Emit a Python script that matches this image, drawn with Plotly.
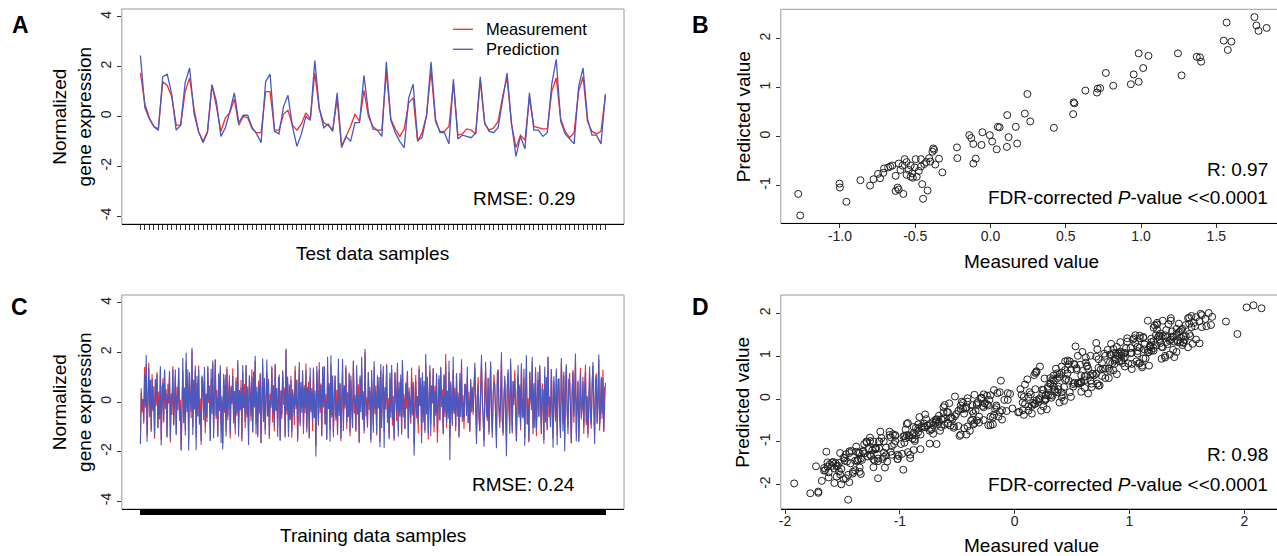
import plotly.graph_objects as go

# === Data ===
# Panel A: test data samples (1..105)
test_measurement = [
    1.75, 0.5, -0.05, -0.4, -0.5, 1.4, 1.25, 0.8, -0.35, -0.35,
    1.0, 1.55, 0.3, -0.6, -1.0, -0.6, 1.25, 0.4, -0.6, -0.05,
    0.15, 0.7, -0.35, 0.0, -0.05, -0.5, -0.65, -0.65, 1.0, 1.0,
    -0.55, -0.55, 0.1, 0.25, -0.35, -0.55, -0.3, 0.15, -0.1, 1.75,
    0.3, -0.25, -0.35, -0.55, 0.7, -1.25, -0.8, -0.4, 0.1, -0.2,
    1.05, 0.0, -0.4, -0.55, -0.55, 1.8, -0.1, -0.5, -0.8, -0.5,
    0.55, 0.75, -1.0, -0.65, 0.05, 1.85, -0.2, -0.6, -0.6, -0.4,
    1.35, -0.75, -0.7, -0.5, -0.55, -0.7, 1.45, -0.3, -0.55, -0.45,
    -0.2, 0.8, 1.55, -0.3, -1.25, -0.75, -0.95, 0.75, -0.4, -0.45,
    -0.5, -0.5, 1.0, 1.55, -0.1, -0.6, -0.85, -0.65, 1.0, 1.6,
    -0.2, -0.6, -0.7, -0.6, 0.85,
]
test_prediction = [
    2.45, 0.35, -0.1, -0.4, -0.55, 1.6, 1.7, 0.9, -0.55, -0.35,
    1.35, 1.95, 0.1, -0.6, -1.05, -0.65, 1.28, 0.6, -0.8, -0.45,
    0.2, 0.95, -0.25, 0.05, 0.05, -0.45, -0.7, -1.05, 1.4, 1.7,
    -0.6, -0.7, 0.4, 0.85, -0.4, -1.2, -0.7, 0.0, -0.15, 2.25,
    0.35, -0.45, -0.3, -0.6, 0.95, -1.2, -0.8, -1.0, -0.25, -0.25,
    1.65, 0.15, -0.5, -0.55, -0.8, 2.2, -0.15, -0.65, -1.0, -1.25,
    0.75, 1.3, -0.95, -0.85, 0.05, 2.2, -0.1, -0.65, -0.65, -1.1,
    1.5, -0.9, -0.75, -0.8, -0.85, -0.65, 1.6, -0.25, -0.6, -0.65,
    -0.45, 0.65, 1.75, -0.3, -1.6, -0.8, -1.3, 0.95, -0.55, -0.55,
    -0.8, -0.65, 1.3, 2.3, -0.2, -0.7, -0.9, -1.1, 1.2, 1.95,
    -0.1, -0.75, -0.75, -1.1, 0.9,
]

# Panel B: test scatter (measured, predicted)
test_scatter_measured = [
    -1.277, -1.264, -1.003, -1.0, -0.957, -0.864, -0.80, -0.777, -0.747, -0.734,
    -0.712, -0.707, -0.68, -0.666, -0.652, -0.63, -0.63, -0.617, -0.61, -0.61,
    -0.598, -0.584, -0.579, -0.57, -0.557, -0.557, -0.543, -0.53, -0.53, -0.52,
    -0.516, -0.503, -0.497, -0.49, -0.476, -0.462, -0.462, -0.454, -0.448, -0.44,
    -0.427, -0.418, -0.408, -0.40, -0.386, -0.38, -0.375, -0.367, -0.342, -0.32,
    -0.223, -0.22, -0.141, -0.128, -0.114, -0.114, -0.098, -0.06, -0.054, -0.005,
    0.011, 0.041, 0.049, 0.06, 0.109, 0.111, 0.12, 0.168, 0.177, 0.228,
    0.245, 0.264, 0.421, 0.549, 0.552, 0.557, 0.63, 0.707, 0.712, 0.728,
    0.766, 0.815, 0.932, 0.951, 0.984, 0.984, 1.014, 1.049, 1.245, 1.269,
    1.37, 1.391, 1.399, 1.549, 1.568, 1.576, 1.60, 1.753, 1.766, 1.78,
    1.834,
]
test_scatter_predicted = [
    -1.17, -1.61, -0.96, -1.04, -1.33, -0.89, -1.0, -0.87, -0.76, -0.85,
    -0.74, -0.65, -0.63, -0.61, -0.59, -0.80, -1.11, -1.04, -1.08, -0.55,
    -0.68, -0.59, -1.17, -0.46, -0.52, -0.78, -0.68, -0.59, -0.82, -0.75,
    -0.84, -0.63, -0.46, -0.82, -0.70, -0.46, -0.61, -0.97, -1.27, -0.56,
    -0.52, -1.10, -0.44, -0.51, -0.31, -0.24, -0.27, -0.57, -0.45, -0.73,
    -0.22, -0.44, 0.03, -0.03, -0.15, -0.55, -0.45, -0.17, 0.09, 0.03,
    -0.10, -0.26, 0.20, 0.19, -0.21, 0.44, -0.01, 0.20, -0.14, 0.47,
    0.87, 0.31, 0.18, 0.46, 0.70, 0.68, 0.94, 0.90, 0.98, 0.99,
    1.30, 1.04, 1.07, 1.27, 1.12, 1.70, 1.40, 1.65, 1.70, 1.25,
    1.63, 1.62, 1.53, 1.96, 2.33, 1.77, 1.94, 2.44, 2.27, 2.16,
    2.22,
]

# Panels C and D: training data samples (estimated, too dense to read one by one)
train_measurement = [
    -1.62, 0.55, -0.41, 0.12, -0.88, 1.41, -0.23, 1.52, -1.35, 0.31, 1.58, -0.62, 0.87, -1.21, 1.12, -0.37, 0.64, -1.48, 0.93, -0.15,
    1.21, -1.05, 0.42, -0.71, 1.33, -1.52, 0.18, 0.96, -0.84, 1.27, -0.29, 0.51, -1.39, 0.74, -0.06, 1.18, -1.63, 0.35, -0.52, 1.44,
    -0.95, 0.27, 1.05, -1.28, 0.61, -0.33, 1.36, -0.77, 0.09, -1.92, 0.83, 1.24, -0.48, 0.39, -1.14, 1.62, -0.21, 0.71, -1.57, 1.09,
    0.24, -0.66, 2.08, -1.01, 0.46, -0.13, 1.29, -1.44, 0.78, -0.58, 1.47, -0.92, 0.15, -1.73, 1.01, 0.57, -0.39, 1.19, -1.26, 0.34,
    -0.81, 1.38, -0.04, 0.67, -1.55, 0.92, -0.27, 1.54, -1.11, 0.22, 1.71, -0.69, 0.48, -1.36, 0.81, -0.18, 1.26, -0.97, 0.05, -1.68,
    1.14, -0.44, 0.59, -1.19, 1.42, -0.74, 0.31, 1.08, -1.47, 0.66, -0.09, 1.35, -0.86, 0.44, -1.31, 0.99, -0.55, 1.57, -1.02, 0.26,
    -0.34, 0.89, -1.59, 1.23, -0.17, 0.73, -1.06, 1.49, -0.63, 0.19, -1.41, 0.96, 0.38, -0.79, 1.31, -1.24, 0.53, -0.02, 1.66, -0.91,
    0.41, -1.33, 0.86, -0.47, 1.17, -1.65, 0.28, 1.43, -0.71, 0.62, -1.12, 0.07, 1.22, -0.58, 0.94, -1.49, 0.33, -0.24, 1.37, -0.83,
    0.69, -1.18, 1.52, -0.36, 0.17, -1.02, 0.79, 1.11, -1.54, 0.45, -0.68, 1.28, -0.12, 0.58, -1.37, 2.15, -0.51, 0.84, -1.23, 0.36,
    -0.73, 1.06, -1.44, 0.52, 0.13, -0.94, 1.46, -0.28, 0.91, -1.61, 0.23, 1.32, -0.87, 0.47, -0.19, 1.13, -1.29, 0.68, -0.45, 1.55,
    -1.08, 0.37, 0.82, -1.46, 1.03, -0.31, 0.56, -1.17, 1.39, -0.64, 0.11, -1.78, 1.25, 0.29, -0.96, 1.61, -0.43, 0.75, -1.34, 0.98,
    -0.22, 1.45, -0.89, 0.32, -1.53, 1.16, -0.07, 0.63, -1.13, 1.51, -0.53, 0.86, -1.42, 0.21, 1.07, -0.76, 0.49, -1.25, 1.34, -0.35,
    0.77, -1.58, 0.14, 1.24, -0.82, 0.54, -0.26, 1.48, -1.09, 0.39, -0.61, 1.19, -1.38, 0.88, 0.03, -0.99, 1.63, -0.46, 0.27, -1.21,
    1.09, -0.38, 0.72, -1.66, 0.95, -0.14, 1.36, -0.72, 0.43, -1.27, 2.02, -0.57, 0.18, -1.04, 1.21, -0.32, 0.61, -1.51, 0.84, 0.08,
    -0.93, 1.41, -0.49, 0.67, -1.35, 1.02, -0.11, 0.55, -1.62, 1.27, -0.68, 0.34, 1.12, -1.19, 0.46, -0.29, 1.53, -0.84, 0.16, -1.43,
    0.97, -0.41, 1.31, -0.95, 0.25, -1.56, 1.18, 0.41, -0.78, 1.44, -1.15, 0.52, -0.19, 0.92, -1.32, 1.67, -0.62, 0.31, -1.07, 0.79,
    -0.27, 1.23, -1.48, 0.58, 0.06, -0.88, 1.39, -0.54, 0.82, -1.71, 0.37, 1.09, -0.66, 0.24, -1.26, 1.47, -0.16, 0.71, -1.39, 1.01,
    -0.47, 0.62, -1.14, 1.54, -0.33, 0.89, -1.52, 0.19, 1.26, -0.91, 0.44, -0.06, 1.35, -1.23, 0.66, -0.56, 1.13, -1.64, 0.29, 0.93,
    -0.74, 1.42, -0.21, 0.51, -1.31, 1.07, -0.62, 1.94, -1.04, 0.33, -0.44, 1.21, -1.45, 0.76, 0.12, -0.97, 1.29, -0.37, 0.57, -1.18,
    1.16, -0.59, 0.38, -1.37, 0.86, -0.23, 1.49, -0.81, 0.27, -1.09, 0.73, 0.49, -0.31, 1.04, -0.86, 0.41, -1.21, 0.88, -0.42, 0.61,
    -0.52, 0.83, 1.37, -0.24, -1.41, 0.18, 1.02, -0.69, -1.18, 0.47, 1.58, 0.21, -0.93, -1.55, 0.64, 1.24, -0.11, -0.78, 0.96, -1.32,
    0.35, 1.46, -0.58, -1.22, 0.09, 1.11, 0.54, -0.87, -1.49, 0.72, 1.33, -0.27, -1.04, 0.43, 1.69, -0.65, -1.36, 0.26, 0.91, -0.45,
    -1.71, 0.62, 1.19, -0.35, -0.98, 1.52, 0.04, -1.27, 0.85, -0.13, 1.28, -0.82, -1.59, 0.37, 1.05, -0.49, 0.71, -1.14, 1.43, -0.21,
    -0.67, 0.98, -1.45, 0.29, 1.36, -0.92, 0.15, -1.63, 1.18, 0.58, -0.33, 1.61, -1.07, 0.41, -0.74, 1.26, -1.38, 0.07, 0.89, -0.56,
    1.47, -0.18, -1.26, 0.76, 0.31, -1.53, 1.09, -0.42, 0.66, -1.12, 1.84, -0.61, 0.22, -0.96, 1.32, -0.29, -1.47, 0.83, 0.12, -0.79,
    1.21, -1.34, 0.48, 0.95, -0.64, -1.19, 1.56, 0.19, -0.88, 1.07, -1.51, 0.34, 1.41, -0.47, -1.02, 0.73, 1.17, -0.37, -1.66, 0.55,
    1.29, -0.84, 0.08, 1.63, -1.23, -0.41, 0.87, -1.57, 0.52, 1.38, -0.71, -0.16, 1.02, -1.29, 0.39, 1.51, -0.94, 0.25, -1.44, 0.68,
    1.12, -0.53, -1.08, 0.79, 1.45, -0.26, -1.35, 0.44, 1.16, -0.89, 0.17, 1.72, -1.16, -0.36, 0.93, -0.68, 1.31, -1.21, 0.58, 0.63,
]
train_prediction = [
    -1.71, 0.37, -0.06, 0.05, -0.79, 1.10, -0.15, 1.90, -1.60, 0.35, 1.39, -0.19, 0.90, -1.13, 0.95, -0.28, 0.13, -1.38, 0.90, 0.14,
    1.13, -1.05, 0.09, -0.53, 1.44, -1.76, 0.61, 0.76, -0.77, 1.31, 0.03, 0.35, -1.44, 0.32, 0.14, 1.25, -1.48, 0.22, 0.06, 1.32,
    -0.91, -0.01, 1.31, -1.34, 0.26, -0.10, 1.39, -0.47, -0.12, -1.97, 0.86, 1.78, -0.86, 0.58, -1.35, 1.99, -0.41, 1.31, -1.96, 1.20,
    0.12, -0.39, 2.19, -1.33, 0.90, -0.30, 1.47, -1.94, 1.06, -0.57, 1.31, -0.85, -0.34, -1.57, 1.07, 0.80, -0.74, 1.41, -0.98, 0.29,
    -0.63, 1.45, 0.12, 0.28, -1.57, 1.33, -0.49, 1.68, -1.46, 0.76, 1.73, -0.55, 0.16, -1.41, 1.15, -0.37, 1.48, -1.65, 0.23, -1.91,
    0.95, -0.34, 1.10, -1.39, 1.33, -0.58, 0.37, 0.83, -1.29, 0.55, -0.02, 1.04, -0.67, 0.44, -1.05, 0.83, -0.43, 1.70, -1.40, 0.48,
    -0.27, 0.58, -1.48, 1.49, -0.24, 0.31, -0.82, 1.47, -0.48, 0.63, -1.74, 1.08, 0.29, -0.57, 1.01, -1.20, 1.23, -0.22, 1.87, -1.30,
    0.62, -1.42, 0.67, -0.15, 1.10, -1.66, -0.24, 1.76, -0.81, 0.97, -1.31, -0.26, 1.72, -0.57, 0.84, -1.37, 0.08, -0.12, 1.46, -0.42,
    0.55, -0.99, 1.52, -0.33, 0.56, -1.40, 1.01, 0.74, -1.56, 0.47, -0.49, 1.22, 0.43, 0.39, -1.44, 2.12, -0.35, 1.03, -1.41, 0.71,
    -0.71, 0.88, -1.22, 0.38, 0.16, -0.58, 1.26, -0.16, 0.88, -1.52, -0.27, 1.61, -0.98, 0.81, -0.43, 1.28, -0.99, 0.59, -0.23, 1.29,
    -1.23, 0.60, 0.49, -1.46, 1.39, -0.41, 0.36, -0.76, 1.34, -0.65, 0.46, -2.20, 1.45, 0.29, -0.86, 1.30, -0.22, 0.69, -1.39, 1.42,
    -0.02, 1.43, -0.92, 0.03, -1.49, 1.83, -0.28, 0.76, -1.60, 1.89, -0.63, 1.07, -1.21, -0.01, 1.06, -0.62, 0.05, -1.33, 1.75, -0.56,
    0.71, -1.47, 0.11, 1.74, -1.17, 0.68, -0.10, 1.38, -0.84, -0.08, -0.60, 1.13, -1.23, 1.07, -0.31, -1.05, 1.68, -0.06, 0.09, -1.15,
    1.48, -0.51, 0.36, -1.61, 1.07, -0.41, 1.83, -0.70, 0.28, -1.15, 2.14, -0.10, -0.11, -0.98, 1.19, -0.07, 0.44, -1.63, 1.29, -0.37,
    -1.24, 1.64, -0.27, 0.36, -1.26, 1.08, -0.26, 1.01, -1.83, 1.53, -1.05, 0.43, 1.45, -1.85, 0.60, 0.01, 1.47, -0.69, -0.09, -1.50,
    1.19, -0.64, 1.49, -0.71, -0.17, -1.50, 1.21, 0.16, -0.36, 1.58, -1.40, 0.82, -0.59, 1.11, -1.23, 1.70, -0.31, 0.09, -1.10, 0.71,
    0.11, 1.25, -1.44, 0.41, 0.10, -0.65, 0.98, -0.46, 0.71, -2.16, 0.48, 0.84, -0.53, 0.22, -0.90, 1.33, -0.15, 0.99, -1.66, 1.19,
    -0.83, 0.85, -1.25, 1.94, -0.50, 1.02, -1.26, -0.03, 1.48, -1.38, 0.68, -0.02, 1.36, -0.99, 0.43, -0.44, 1.16, -1.23, 0.09, 1.08,
    -0.74, 1.37, 0.09, 0.29, -1.27, 1.12, -0.45, 1.52, -0.86, 0.46, -0.68, 1.67, -2.35, 0.84, -0.17, -0.87, 1.83, -0.48, 0.38, -0.99,
    1.15, -0.30, 0.23, -1.44, 1.17, -0.61, 1.73, -0.67, 0.01, -0.76, 0.73, 0.69, -0.55, 1.42, -0.85, 0.04, -1.17, 0.93, -0.19, 0.54,
    -0.40, 0.66, 1.58, 0.08, -1.70, 0.23, 0.70, -0.49, -1.15, 0.43, 1.91, -0.07, -0.56, -1.81, 0.71, 1.62, -0.48, -0.66, 0.98, -1.21,
    0.18, 1.64, -0.31, -1.44, 0.34, 0.78, 0.72, -0.94, -1.87, 1.16, 1.28, -0.19, -0.84, -0.04, 2.01, -0.74, -1.25, -0.04, 1.06, -0.09,
    -2.19, 0.53, 1.33, 0.10, -1.28, 1.76, -0.30, -1.17, 0.84, 0.16, 0.94, -0.83, -1.56, 0.16, 1.49, -0.63, 0.59, -0.99, 1.56, -0.61,
    -0.58, 1.34, -1.77, 0.25, 1.89, -0.89, -0.16, -1.58, 1.23, 0.17, -0.14, 1.82, -1.30, 0.76, -1.04, 1.40, -1.11, -0.08, 1.22, -0.62,
    1.47, 0.21, -1.30, 0.54, 0.49, -1.69, 1.42, -0.83, 1.01, -1.13, 1.81, -0.14, 0.02, -1.02, 1.33, 0.03, -1.85, 1.04, -0.27, -0.65,
    1.35, -1.75, 0.88, 0.95, -0.47, -1.45, 1.78, 0.65, -1.19, 1.22, -1.99, 0.55, 1.52, -0.23, -1.30, 0.93, 0.78, -0.14, -1.67, 0.37,
    1.21, -0.59, 0.05, 1.96, -1.59, 0.02, 0.82, -1.62, 0.80, 1.15, -0.61, -0.19, 0.82, -1.01, 0.52, 1.21, -0.84, 0.21, -1.26, 0.59,
    1.43, -0.67, -0.89, 0.49, 1.61, -0.10, -1.70, 0.88, 1.09, -0.84, -0.12, 1.92, -0.91, -0.59, 1.02, -0.47, 0.97, -1.17, 0.55, 0.78,
]

# Tick labels
expr_ticks = [-4, -2, 0, 2, 4]
b_x_ticks = [-1.0, -0.5, 0.0, 0.5, 1.0, 1.5]
b_y_ticks = [-1, 0, 1, 2]
d_ticks = [-2, -1, 0, 1, 2]

# Annotation texts
rmse_test = "RMSE: 0.29"
rmse_train = "RMSE: 0.24"
r_test = "R: 0.97"
r_train = "R: 0.98"
fdr_text = "FDR-corrected <i>P</i>-value &lt;&lt;0.0001"

# === Layout helpers (pixel positions in the 1277x556 page) ===
W, H = 1277, 556
FONT = "Liberation Sans, Arial, sans-serif"
RED = "#ff2a2a"
BLUE = "#4a58c0"


def fx(p):
    return p / W


def fy(p):
    return 1 - p / H


def r_range(lo, hi):
    # R style 4% padding
    d = hi - lo
    return [lo - 0.04 * d, hi + 0.04 * d]


def base_axis(x0, x1, rng, **kw):
    ax = dict(domain=[x0, x1], range=rng, showgrid=False, zeroline=False,
              ticks="outside", ticklen=5, tickwidth=1, tickcolor="#333",
              tickfont=dict(family=FONT, size=14, color="#222"))
    ax.update(kw)
    return ax


test_idx = list(range(1, len(test_measurement) + 1))
train_idx = list(range(1, len(train_measurement) + 1))

traces = [
    go.Scatter(x=test_idx, y=test_measurement, mode="lines", line=dict(color=RED, width=1.3),
               xaxis="x", yaxis="y", name="Measurement"),
    go.Scatter(x=test_idx, y=test_prediction, mode="lines", line=dict(color=BLUE, width=1.3),
               xaxis="x", yaxis="y", name="Prediction"),
    go.Scatter(x=test_scatter_measured, y=test_scatter_predicted, mode="markers",
               marker=dict(symbol="circle-open", size=7, color="#222", line=dict(width=1)),
               xaxis="x2", yaxis="y2"),
    go.Scatter(x=train_idx, y=train_measurement, mode="lines", line=dict(color=RED, width=1.1),
               xaxis="x3", yaxis="y3"),
    go.Scatter(x=train_idx, y=train_prediction, mode="lines", line=dict(color=BLUE, width=1.1),
               xaxis="x3", yaxis="y3"),
    go.Scatter(x=train_measurement, y=train_prediction, mode="markers",
               marker=dict(symbol="circle-open", size=7, color="#222", line=dict(width=1)),
               xaxis="x4", yaxis="y4"),
]
fig = go.Figure(data=traces)

n_test, n_train = len(test_idx), len(train_idx)
b_left, b_scale = -1.393, 150.8   # value at box left, px per unit
d_left, d_scale = -2.037, 115.0

layout_axes = dict(
    # A
    xaxis=base_axis(fx(120), fx(623), r_range(1, n_test), anchor="y", tickmode="array",
                    tickvals=test_idx, showticklabels=False, showline=True, linecolor="black", linewidth=1),
    yaxis=base_axis(fy(224), fy(9), [-4.32, 4.32], anchor="x", tickmode="array",
                    tickvals=expr_ticks, ticktext=[str(t) for t in expr_ticks], tickangle=-90, ticklen=4),
    # B
    xaxis2=base_axis(fx(780), 1.0, [b_left, b_left + (W - 780) / b_scale], anchor="y2", tickmode="array",
                     tickvals=b_x_ticks, ticktext=["%.1f" % t for t in b_x_ticks],
                     showline=True, linecolor="black", linewidth=1, ticklen=4, ticklabelstandoff=-4),
    yaxis2=base_axis(fy(223.3), fy(9.3), [-1.77, 2.60], anchor="x2", tickmode="array",
                     tickvals=b_y_ticks, ticktext=[str(t) for t in b_y_ticks], tickangle=-90, ticklen=4),
    # C
    xaxis3=base_axis(fx(120), fx(623), r_range(1, n_train), anchor="y3", tickmode="array",
                     tickvals=train_idx, showticklabels=False, showline=True, linecolor="black",
                     linewidth=1, tickcolor="black"),
    yaxis3=base_axis(fy(509), fy(295), [-4.32, 4.32], anchor="x3", tickmode="array",
                     tickvals=expr_ticks, ticktext=[str(t) for t in expr_ticks], tickangle=-90, ticklen=4),
    # D
    xaxis4=base_axis(fx(780), 1.0, [d_left, d_left + (W - 780) / d_scale], anchor="y4", tickmode="array",
                     tickvals=d_ticks, ticktext=[str(t) for t in d_ticks],
                     showline=True, linecolor="black", linewidth=1, ticklen=4, ticklabelstandoff=-5),
    yaxis4=base_axis(fy(508.7), fy(295), [-2.56, 2.43], anchor="x4", tickmode="array",
                     tickvals=d_ticks, ticktext=[str(t) for t in d_ticks], tickangle=-90, ticklen=4),
)

# Gray plot boxes (B and D run off the right edge of the page)
shapes = []
for xa, ya, x1 in [("x", "y", 1), ("x2", "y2", 1.05), ("x3", "y3", 1), ("x4", "y4", 1.05)]:
    shapes.append(dict(type="rect", xref=xa + " domain", yref=ya + " domain", x0=0, x1=x1, y0=0, y1=1,
                       line=dict(color="#9a9a9a", width=1), layer="below"))

# Legend of panel A
for ypx, col in [(29.3, RED), (49.3, BLUE)]:
    shapes.append(dict(type="line", xref="paper", yref="paper", x0=fx(451.7), x1=fx(471.7),
                       y0=fy(ypx), y1=fy(ypx), line=dict(color=col, width=1.3)))


def label(text, xpx, ypx, size=19, xanchor="center", angle=0, bold=False):
    return dict(text="<b>%s</b>" % text if bold else text, x=fx(xpx), y=fy(ypx), xref="paper", yref="paper",
                xanchor=xanchor, yanchor="middle", textangle=angle, showarrow=False,
                font=dict(family=FONT, size=size, color="black"))


annotations = [
    label("A", 19, 25, size=23, bold=True),
    label("B", 700, 25, size=23, bold=True),
    label("C", 18, 307, size=23, bold=True),
    label("D", 700, 307, size=23, bold=True),
    label("Normalized<br>gene expression", 70, 116.5, angle=-90),
    label("Normalized<br>gene expression", 70, 402, angle=-90),
    label("Predicted value", 742, 116.3, angle=-90),
    label("Predicted value", 742, 402, angle=-90),
    label("Test data samples", 371.5, 253.5),
    label("Training data samples", 371.5, 535),
    label("Measured value", 1030.8, 261),
    label("Measured value", 1030.8, 545),
    label(rmse_test, 522.5, 198.5),
    label(rmse_train, 522.5, 484),
    label(r_test, 1270, 169, xanchor="right"),
    label(fdr_text, 1270, 197.5, xanchor="right"),
    label(r_train, 1270, 454, xanchor="right"),
    label(fdr_text, 1270, 484, xanchor="right"),
    label("Measurement", 482.7, 29.3, size=16.5, xanchor="left"),
    label("Prediction", 482.7, 49.3, size=16.5, xanchor="left"),
]

fig.update_layout(
    width=W, height=H, autosize=False,
    margin=dict(l=0, r=0, t=0, b=0),
    paper_bgcolor="white", plot_bgcolor="white",
    showlegend=False,
    font=dict(family=FONT, color="black"),
    shapes=shapes, annotations=annotations,
    **layout_axes
)

# drop the default 8px page margin so the figure fills the window exactly
fig.write_html("out.html", config={"displayModeBar": False},
               post_script="document.body.style.margin='0';document.body.style.overflow='hidden';")
